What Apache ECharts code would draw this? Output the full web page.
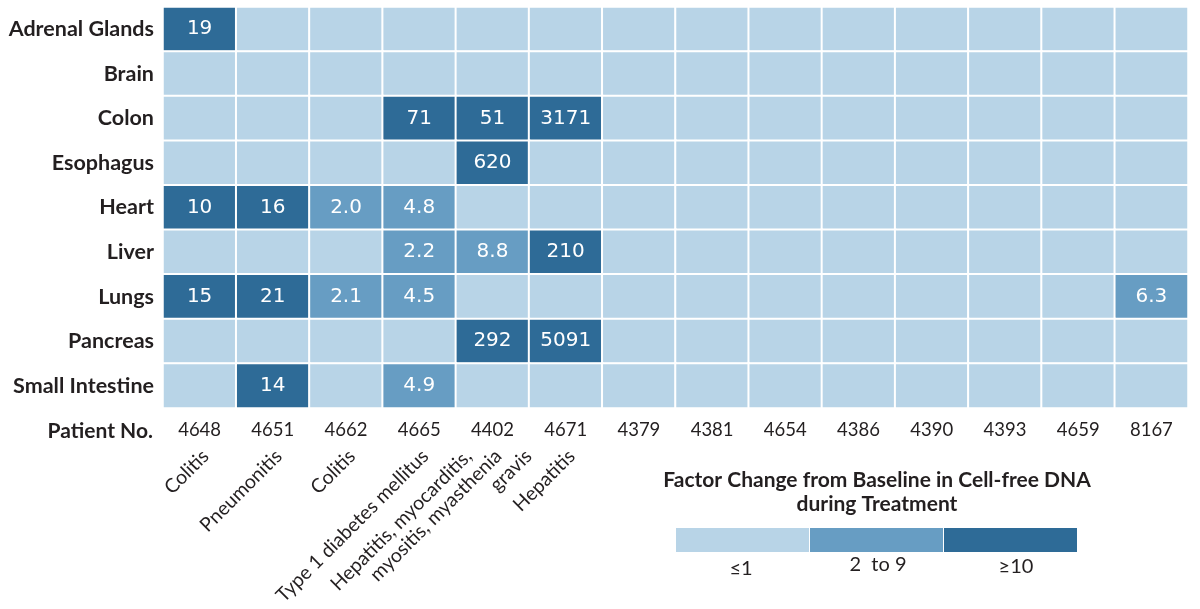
<!DOCTYPE html>
<html>
<head>
<meta charset="utf-8">
<script src="https://cdn.jsdelivr.net/npm/echarts@6/dist/echarts.min.js"></script>
<style>
  html, body { margin: 0; padding: 0; background: #fff; }
  #main { width: 1200px; height: 609px; }
</style>
</head>
<body>
<div id="main"></div>
<script>
// patients (columns) and organs (rows)
var patients = ['4648', '4651', '4662', '4665', '4402', '4671', '4379', '4381', '4654', '4386', '4390', '4393', '4659', '8167'];
var organs = ['Adrenal Glands', 'Brain', 'Colon', 'Esophagus', 'Heart', 'Liver', 'Lungs', 'Pancreas', 'Small Intestine'];

// diagnosis under each patient, one entry per line
var diagnoses = [
    ['Colitis'],
    ['Pneumonitis'],
    ['Colitis'],
    ['Type 1 diabetes mellitus'],
    ['Hepatitis, myocarditis,', 'myositis, myasthenia', 'gravis'],
    ['Hepatitis'],
    [], [], [], [], [], [], [], []
];

// factor change per organ, null = ≤1 (no number printed)
var adrenal   = [19, null, null, null, null, null, null, null, null, null, null, null, null, null];
var brain     = [null, null, null, null, null, null, null, null, null, null, null, null, null, null];
var colon     = [null, null, null, 71, 51, 3171, null, null, null, null, null, null, null, null];
var esophagus = [null, null, null, null, 620, null, null, null, null, null, null, null, null, null];
var heart     = [10, 16, 2.0, 4.8, null, null, null, null, null, null, null, null, null, null];
var liver     = [null, null, null, 2.2, 8.8, 210, null, null, null, null, null, null, null, null];
var lungs     = [15, 21, 2.1, 4.5, null, null, null, null, null, null, null, null, null, 6.3];
var pancreas  = [null, null, null, null, 292, 5091, null, null, null, null, null, null, null, null];
var intestine = [null, 14, null, 4.9, null, null, null, null, null, null, null, null, null, null];
var rows = [adrenal, brain, colon, esophagus, heart, liver, lungs, pancreas, intestine];

var legendLabels = ['≤1', '2  to 9', '≥10'];

var LIGHT = '#b8d4e7', MID = '#679dc3', DARK = '#2e6b97';
var TEXT = '#231f20';

var data = [];
rows.forEach(function (row, y) {
    row.forEach(function (v, x) {
        data.push([x, y, v === null ? 1 : v]);
    });
});

var staticGraphic = [
    {
        type: 'text', x: 153, y: 431,
        style: { text: 'Patient No.', align: 'right', verticalAlign: 'middle', font: 'bold 21px Lato', fill: TEXT }
    },
    {
        type: 'text', x: 877, y: 480,
        style: { text: 'Factor Change from Baseline in Cell-free DNA', align: 'center', verticalAlign: 'middle', font: 'bold 21px Lato', fill: TEXT }
    },
    {
        type: 'text', x: 877, y: 504,
        style: { text: 'during Treatment', align: 'center', verticalAlign: 'middle', font: 'bold 21px Lato', fill: TEXT }
    },
    {
        type: 'text', x: 741, y: 569,
        style: { text: legendLabels[0], align: 'center', verticalAlign: 'middle', font: '20px Lato', fill: TEXT }
    },
    {
        type: 'text', x: 878, y: 565,
        style: { text: legendLabels[1], align: 'center', verticalAlign: 'middle', font: '20px Lato', fill: TEXT }
    },
    {
        type: 'text', x: 1016, y: 567,
        style: { text: legendLabels[2], align: 'center', verticalAlign: 'middle', font: '20px Lato', fill: TEXT }
    }
];

var option = {
    backgroundColor: '#fff',
    animation: false,
    grid: { left: 163, right: 12, top: 7, bottom: 201 },
    xAxis: {
        type: 'category',
        data: patients,
        axisLine: { show: false },
        axisTick: { show: false },
        splitLine: { show: false },
        axisLabel: { margin: 13, fontSize: 18.5, fontFamily: 'Lato', color: TEXT }
    },
    yAxis: {
        type: 'category',
        data: organs,
        inverse: true,
        axisLine: { show: false },
        axisTick: { show: false },
        splitLine: { show: false },
        axisLabel: { margin: 9, fontSize: 21.5, fontWeight: 'bold', fontFamily: 'Lato', color: TEXT }
    },
    visualMap: {
        type: 'piecewise',
        orient: 'horizontal',
        left: 676,
        top: 528,
        padding: 0,
        itemWidth: 133,
        itemHeight: 24,
        itemGap: 1,
        itemSymbol: 'rect',
        showLabel: false,
        selectedMode: false,
        pieces: [
            { lte: 1, color: LIGHT, label: legendLabels[0] },
            { gt: 1, lt: 10, color: MID, label: legendLabels[1] },
            { gte: 10, color: DARK, label: legendLabels[2] }
        ]
    },
    series: [{
        type: 'heatmap',
        data: data,
        itemStyle: { borderColor: '#fff', borderWidth: 2 },
        label: {
            show: true,
            color: '#fff',
            fontSize: 20,
            fontFamily: 'DejaVu Sans',
            formatter: function (p) {
                var v = rows[p.value[1]][p.value[0]];
                if (v === null) return '';
                return v < 10 ? v.toFixed(1) : String(v);
            }
        },
        emphasis: { disabled: true }
    }],
    graphic: staticGraphic
};

var chart = echarts.init(document.getElementById('main'));
chart.setOption(option);

// rotated diagnosis labels under the patient numbers
var diagLabels = [];
diagnoses.forEach(function (lines, i) {
    if (!lines.length) return;
    var cx = chart.convertToPixel({ xAxisIndex: 0 }, patients[i]);
    lines.forEach(function (line, k) {
        diagLabels.push({
            type: 'text',
            x: cx + 6 + (k - (lines.length - 1) / 2) * 30,
            y: 453,
            rotation: Math.PI / 4,
            style: { text: line, align: 'right', verticalAlign: 'middle', font: '19.5px Lato', fill: TEXT }
        });
    });
});
chart.setOption({ graphic: staticGraphic.concat(diagLabels) });
</script>
</body>
</html>
